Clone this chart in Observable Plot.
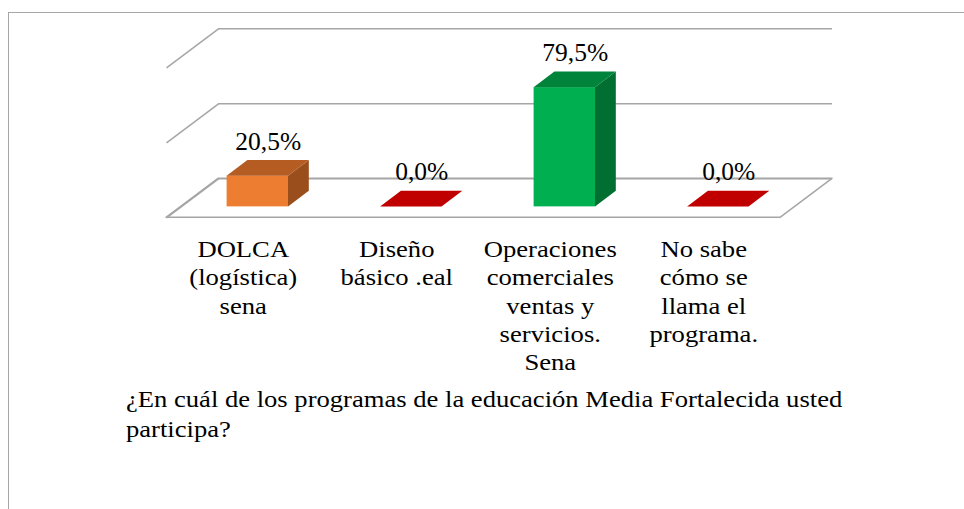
<!DOCTYPE html>
<html><head><meta charset="utf-8">
<script src="https://cdn.jsdelivr.net/npm/d3@7"></script>
<script src="https://cdn.jsdelivr.net/npm/@observablehq/plot@0.6"></script>
<style>
body{margin:0;background:#fff;font-family:'Liberation Serif','Times New Roman',serif;}
#wrap{position:relative;width:964px;height:509px;overflow:hidden;background:#fff;}
#box{position:absolute;left:8px;top:12px;width:1000px;height:600px;border-left:1px solid #A6A6A6;border-top:1px solid #A6A6A6;pointer-events:none;}
#title{font-size:24px;line-height:30px;margin-left:126px;color:#000;white-space:nowrap;transform:scaleX(1.108);transform-origin:0 0;}
</style></head><body>
<div id="wrap"><div id="chart"></div><div id="title"></div><div id="box"></div></div>
<script>
const categories = [
  "DOLCA\n(logística)\nsena",
  "Diseño\nbásico .eal",
  "Operaciones\ncomerciales\nventas y\nservicios.\nSena",
  "No sabe\ncómo se\nllama el\nprograma."
];
const values = [20.5, 0, 79.5, 0];
const valueLabels = values.map(v => v.toFixed(1).replace(".", ",") + "%");
const gridValues = [0, 50, 100];
const frontColors = ["#ED7D31", "#C00000", "#00B050", "#C00000"];
const topColors = ["#B45C22", "#C00000", "#00833A", "#C00000"];
const sideColors = ["#9A4E1C", "#C00000", "#006F31", "#C00000"];
const titleLines = ["¿En cuál de los programas de la educación Media Fortalecida usted", "participa?"];

// layout (pixels)
const W = 964, H = 384;
const mL = 218, mR = 132, mT = 28.3, mB = H - 178.3;
const n = categories.length;
const xUnitPx = (W - mL - mR) / n;
const yUnitPx = (H - mT - mB) / 100;
// oblique depth of the floor in pixels, converted to data units
const kx = -52 / xUnitPx, ky = -39 / yUnitPx;
const fFront = 0.72, fBack = 0.32, halfW = 0.2;
const grid = "#A6A6A6";

const bars = categories.map((c, i) => ({i, c, v: values[i], label: valueLabels[i],
  front: frontColors[i], top: topColors[i], side: sideColors[i]}));
const cx = (d, f) => d.i + 0.5 + f * kx;
const tall = bars.filter(d => d.v > 0);
const sidePts = tall.flatMap(d => [
  {i: d.i, x: cx(d, fFront) + halfW, y1: fFront * ky, y2: d.v + fFront * ky, fill: d.side},
  {i: d.i, x: cx(d, fBack) + halfW, y1: fBack * ky, y2: d.v + fBack * ky, fill: d.side}
]);
const topPts = bars.flatMap(d => [
  {i: d.i, y: d.v + fFront * ky, x1: cx(d, fFront) - halfW, x2: cx(d, fFront) + halfW, fill: d.top},
  {i: d.i, y: d.v + fBack * ky, x1: cx(d, fBack) - halfW, x2: cx(d, fBack) + halfW, fill: d.top}
]);
const floor = [{y: 0, x1: 0, x2: n}, {y: ky, x1: kx, x2: n + kx}];

const font = "Liberation Serif";
const chart = Plot.plot({
  width: W, height: H,
  marginLeft: mL, marginRight: mR, marginTop: mT, marginBottom: mB,
  x: {type: "linear", domain: [0, n], axis: null},
  y: {type: "linear", domain: [0, 100], axis: null},
  color: {type: "identity"},
  style: {background: "transparent", fontFamily: font},
  marks: [
    Plot.areaX(floor, {y: "y", x1: "x1", x2: "x2", fill: "white", stroke: grid, strokeWidth: 1.5}),
    Plot.ruleY(gridValues, {y: d => d, x1: () => 0, x2: () => n, stroke: grid, strokeWidth: 1.5}),
    Plot.link(gridValues, {x1: () => 0, y1: d => d, x2: () => kx, y2: d => d + ky, stroke: grid, strokeWidth: 1.5}),
    Plot.rect(tall, {x1: d => cx(d, fFront) - halfW, x2: d => cx(d, fFront) + halfW,
      y1: () => fFront * ky, y2: d => d.v + fFront * ky, fill: "front"}),
    Plot.areaY(sidePts, {x: "x", y1: "y1", y2: "y2", z: "i", fill: "fill"}),
    Plot.areaX(topPts, {y: "y", x1: "x1", x2: "x2", z: "i", fill: "fill"}),
    Plot.text(bars, {x: d => cx(d, (fFront + fBack) / 2), y: d => d.v + fBack * ky, text: "label",
      lineAnchor: "bottom", dy: -11, fontSize: 25.5, fill: "black", fontFamily: font}),
    Plot.text(bars, {x: d => d.i + 0.5 + kx, y: () => ky, text: "c", lineAnchor: "top", dy: 19,
      fontSize: 24, lineHeight: 1.18, fill: "black", fontFamily: font, className: "cat"})
  ]
});
d3.select(chart).selectAll(".cat text").attr("transform", function() {
  return (this.getAttribute("transform") || "") + " scale(1.11,1)";
});
document.getElementById("chart").appendChild(chart);
document.getElementById("title").innerHTML = titleLines.join("<br>");
</script></body></html>
